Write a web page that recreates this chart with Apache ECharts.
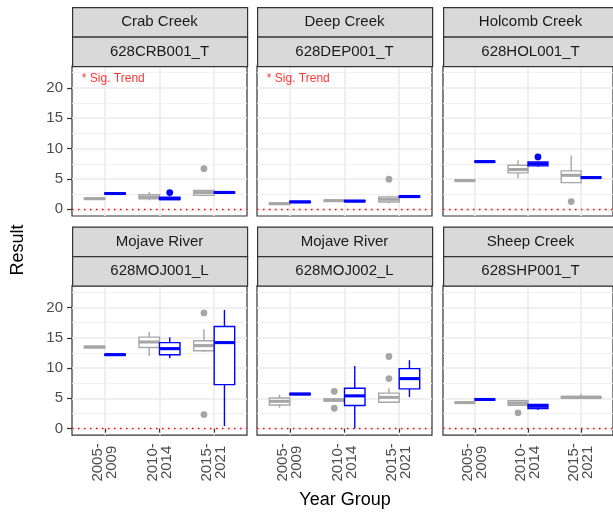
<!DOCTYPE html>
<html><head><meta charset="utf-8">
<script src="https://cdn.jsdelivr.net/npm/echarts@6/dist/echarts.min.js"></script>
<style>html,body{margin:0;padding:0;background:#fff}#c{width:613px;height:513px}</style>
</head><body><div id="c"></div><script>
// ---------------- DATA ----------------
const yearGroups = ['2005-2009', '2010-2014', '2015-2021'];
const streamNames = ['Crab Creek', 'Deep Creek', 'Holcomb Creek', 'Mojave River', 'Mojave River', 'Sheep Creek'];
const siteCodes = ['628CRB001_T', '628DEP001_T', '628HOL001_T', '628MOJ001_L', '628MOJ002_L', '628SHP001_T'];
const yTicks = [0, 5, 10, 15, 20];
const yMinorTicks = [2.5, 7.5, 12.5, 17.5, 22.5];
const sigTrendLabel = '* Sig. Trend';
const sigTrendPanels = [0, 1];
const xAxisTitle = 'Year Group';
const yAxisTitle = 'Result';

// box stats per year group: [min, q1, median, q3, max]; null = no data
const crabGray = [[1.6, 1.65, 1.75, 1.85, 1.9], [1.5, 1.75, 2.0, 2.4, 2.85], [2.25, 2.3, 2.75, 3.1, 3.2]];
const crabBlue = [[2.45, 2.5, 2.6, 2.7, 2.75], [1.55, 1.6, 1.75, 2.0, 2.05], [2.65, 2.7, 2.78, 2.85, 2.9]];
const crabGrayOut = [[3, 6.7]];
const crabBlueOut = [[2, 2.75]];

const deepGray = [[0.8, 0.82, 0.92, 1.02, 1.05], [1.3, 1.32, 1.42, 1.52, 1.7], [0.95, 1.2, 1.65, 2.05, 2.25]];
const deepBlue = [[1.1, 1.12, 1.22, 1.32, 1.35], [1.25, 1.27, 1.35, 1.45, 1.5], [1.95, 2.0, 2.1, 2.2, 2.25]];
const deepGrayOut = [[3, 4.95]];
const deepBlueOut = [];

const holGray = [[4.5, 4.6, 4.72, 4.85, 4.95], [5.1, 6.0, 6.55, 7.25, 8.1], [4.3, 4.4, 5.6, 6.33, 8.85]];
const holBlue = [[7.7, 7.75, 7.85, 7.95, 8.0], [7.0, 7.15, 7.48, 7.8, 7.85], [5.1, 5.15, 5.23, 5.32, 5.38]];
const holGrayOut = [[3, 1.28]];
const holBlueOut = [[2, 8.63]];

const moj1Gray = [[13.3, 13.35, 13.47, 13.6, 13.65], [12.0, 13.4, 14.3, 15.1, 16.0], [12.7, 12.85, 13.7, 14.5, 16.4]];
const moj1Blue = [[12.05, 12.1, 12.2, 12.3, 12.35], [11.65, 12.2, 13.2, 14.2, 15.1], [0.4, 7.25, 14.2, 16.85, 19.6]];
const moj1GrayOut = [[3, 19.1], [3, 2.3]];
const moj1BlueOut = [];

const moj2Gray = [[3.45, 3.9, 4.5, 5.05, 5.6], [4.5, 4.55, 4.72, 4.9, 4.95], [4.3, 4.35, 5.15, 5.85, 6.65]];
const moj2Blue = [[5.55, 5.6, 5.7, 5.8, 5.85], [0.0, 3.8, 5.4, 6.65, 10.35], [5.2, 6.55, 8.25, 9.9, 11.3]];
const moj2GrayOut = [[2, 6.15], [2, 3.35], [3, 11.9], [3, 8.25]];
const moj2BlueOut = [];

const shpGray = [[4.15, 4.2, 4.28, 4.38, 4.42], [3.85, 3.85, 4.2, 4.6, 4.7], [5.0, 5.05, 5.15, 5.3, 5.7]];
const shpBlue = [[4.65, 4.7, 4.8, 4.9, 4.95], [3.08, 3.3, 3.68, 4.0, 4.0], null];
const shpGrayOut = [[2, 2.6]];
const shpBlueOut = [];

// ---------------- LAYOUT / STYLE ----------------
const GRAY = '#A6A6A6', BLUE = '#0000FF';
const FONT = '"Liberation Sans", Arial, sans-serif';
const PANEL_LEFT = [72, 257, 443];
const PANEL_W = 175;
const STRIP_TOP = [7, 226.5];
const STRIP_H = 29.5;
const PLOT_TOP = [66, 285.7];
const PLOT_H = [150, 149.5];
const Y_MIN = -1.1, Y_MAX = 23.6;
const X_MIN = 0.4, X_MAX = 3.6;
const DODGE = 0.75;
const LW = 1.4;
const SIG_POS = [0.58, 21.5];

const panels = [
  { gray: crabGray, blue: crabBlue, grayOut: crabGrayOut, blueOut: crabBlueOut },
  { gray: deepGray, blue: deepBlue, grayOut: deepGrayOut, blueOut: deepBlueOut },
  { gray: holGray, blue: holBlue, grayOut: holGrayOut, blueOut: holBlueOut },
  { gray: moj1Gray, blue: moj1Blue, grayOut: moj1GrayOut, blueOut: moj1BlueOut },
  { gray: moj2Gray, blue: moj2Blue, grayOut: moj2GrayOut, blueOut: moj2BlueOut },
  { gray: shpGray, blue: shpBlue, grayOut: shpGrayOut, blueOut: shpBlueOut }
];

function placement(cat, other, side) {
  const both = other[cat - 1] != null;
  return { cx: cat + (both ? side * DODGE / 4 : 0), half: both ? DODGE / 4 : DODGE / 2 };
}

function boxRender(other, side, col) {
  return function (params, api) {
    const cat = api.value(0);
    const pl = placement(cat, other, side);
    const mn = api.value(1), q1 = api.value(2), md = api.value(3), q3 = api.value(4), mx = api.value(5);
    const a = api.coord([pl.cx - pl.half, q3]);
    const b = api.coord([pl.cx + pl.half, q1]);
    const m = api.coord([pl.cx, md]);
    const t = api.coord([pl.cx, mx]);
    const bt = api.coord([pl.cx, mn]);
    const xc = t[0];
    return {
      type: 'group', children: [
        { type: 'line', shape: { x1: xc, y1: t[1], x2: xc, y2: a[1] }, style: { stroke: col, lineWidth: LW } },
        { type: 'line', shape: { x1: xc, y1: b[1], x2: xc, y2: bt[1] }, style: { stroke: col, lineWidth: LW } },
        { type: 'rect', shape: { x: a[0], y: a[1], width: b[0] - a[0], height: b[1] - a[1] }, style: { fill: '#fff', stroke: col, lineWidth: LW } },
        { type: 'line', shape: { x1: a[0], y1: m[1], x2: b[0], y2: m[1] }, style: { stroke: col, lineWidth: LW * 2.2 } }
      ]
    };
  };
}

function outRender(other, side, col) {
  return function (params, api) {
    const cat = api.value(0);
    const pl = placement(cat, other, side);
    const p = api.coord([pl.cx, api.value(1)]);
    return { type: 'circle', shape: { cx: p[0], cy: p[1], r: 3.4 }, style: { fill: col } };
  };
}

const option = { animation: false, backgroundColor: '#fff', grid: [], xAxis: [], yAxis: [], series: [], graphic: [] };

panels.forEach((p, i) => {
  const r = Math.floor(i / 3), c = i % 3;
  const left = PANEL_LEFT[c];
  option.grid.push({ left: left, top: PLOT_TOP[r], width: PANEL_W, height: PLOT_H[r], show: true, backgroundColor: '#fff', borderColor: '#333333', borderWidth: 1.2, z: 0 });
  option.xAxis.push({
    type: 'value', gridIndex: i, min: X_MIN, max: X_MAX,
    axisLine: { show: false },
    axisTick: { show: r === 1, customValues: [1, 2, 3], length: 4, lineStyle: { color: '#333333', width: 1.2 } },
    axisLabel: {
      show: r === 1, customValues: [1, 2, 3], rotate: 90, margin: 8,
      formatter: v => yearGroups[Math.round(v) - 1].split('-').map((s, k) => '{a|' + s + (k === 0 ? '-' : '') + '}').join('\n'),
      color: '#4D4D4D', fontSize: 15, fontFamily: FONT, lineHeight: 14,
      rich: { a: { align: 'center', color: '#4D4D4D', fontSize: 15, fontFamily: FONT, lineHeight: 14 } }
    },
    splitLine: { show: true, lineStyle: { color: '#EBEBEB', width: 1.6 } }
  });
  option.yAxis.push({
    type: 'value', gridIndex: i, min: Y_MIN, max: Y_MAX,
    axisLine: { show: false },
    axisTick: { show: c === 0, customValues: yTicks, length: 5, lineStyle: { color: '#333333', width: 1.2 } },
    axisLabel: { show: c === 0, customValues: yTicks, margin: 9, color: '#4D4D4D', fontSize: 15, fontFamily: FONT },
    splitLine: { show: true, lineStyle: { color: '#EBEBEB', width: 1.6 } }
  });
  option.yAxis.push({
    type: 'value', gridIndex: i, min: Y_MIN, max: Y_MAX, position: 'right',
    axisLine: { show: false },
    axisTick: { show: false, customValues: yMinorTicks },
    axisLabel: { show: false, customValues: yMinorTicks },
    splitLine: { show: true, lineStyle: { color: '#F0F0F0', width: 0.9 } }
  });
  const xi = i, yi = 2 * i;
  const grayData = p.gray.map((s, k) => s ? [k + 1].concat(s) : null).filter(Boolean);
  const blueData = p.blue.map((s, k) => s ? [k + 1].concat(s) : null).filter(Boolean);
  option.series.push({
    type: 'scatter', xAxisIndex: xi, yAxisIndex: yi, symbolSize: 0, silent: true,
    data: sigTrendPanels.includes(i) ? [SIG_POS] : [],
    label: { show: true, position: 'right', distance: 0, formatter: sigTrendLabel, color: '#FF0000', fontSize: 12, fontFamily: FONT },
    markLine: { silent: true, symbol: 'none', label: { show: false }, animation: false,
      lineStyle: { color: '#FF0000', type: [1.5, 4.5], width: 1.4 }, data: [{ yAxis: 0 }] },
    z: 3
  });
  option.series.push({ type: 'custom', xAxisIndex: xi, yAxisIndex: yi, data: grayData, renderItem: boxRender(p.blue, -1, GRAY), encode: { x: 0, y: [1, 2, 3, 4, 5] }, z: 4 });
  option.series.push({ type: 'custom', xAxisIndex: xi, yAxisIndex: yi, data: blueData, renderItem: boxRender(p.gray, 1, BLUE), encode: { x: 0, y: [1, 2, 3, 4, 5] }, z: 4 });
  option.series.push({ type: 'custom', xAxisIndex: xi, yAxisIndex: yi, data: p.grayOut, renderItem: outRender(p.blue, -1, GRAY), encode: { x: 0, y: 1 }, z: 5 });
  option.series.push({ type: 'custom', xAxisIndex: xi, yAxisIndex: yi, data: p.blueOut, renderItem: outRender(p.gray, 1, BLUE), encode: { x: 0, y: 1 }, z: 5 });

  // strips
  [streamNames[i], siteCodes[i]].forEach((txt, k) => {
    const y0 = STRIP_TOP[r] + k * STRIP_H;
    option.graphic.push({ type: 'rect', left: left, top: y0, shape: { x: 0, y: 0, width: PANEL_W, height: STRIP_H },
      style: { fill: '#D9D9D9', stroke: '#333333', lineWidth: 1.2 }, z: 10 });
    option.graphic.push({ type: 'text', x: left + PANEL_W / 2, y: y0 + STRIP_H / 2 + 0.5,
      style: { text: txt, fill: '#1A1A1A', font: '15px ' + FONT, textAlign: 'center', textVerticalAlign: 'middle' }, z: 11 });
  });
});

option.graphic.push({ type: 'text', x: 18, y: 250, rotation: Math.PI / 2,
  style: { text: yAxisTitle, fill: '#000', font: '18px ' + FONT, textAlign: 'center', textVerticalAlign: 'middle' } });
option.graphic.push({ type: 'text', x: 345, y: 500,
  style: { text: xAxisTitle, fill: '#000', font: '18px ' + FONT, textAlign: 'center', textVerticalAlign: 'middle' } });

const chart = echarts.init(document.getElementById('c'), null, { renderer: 'canvas' });
chart.setOption(option);
</script></body></html>
